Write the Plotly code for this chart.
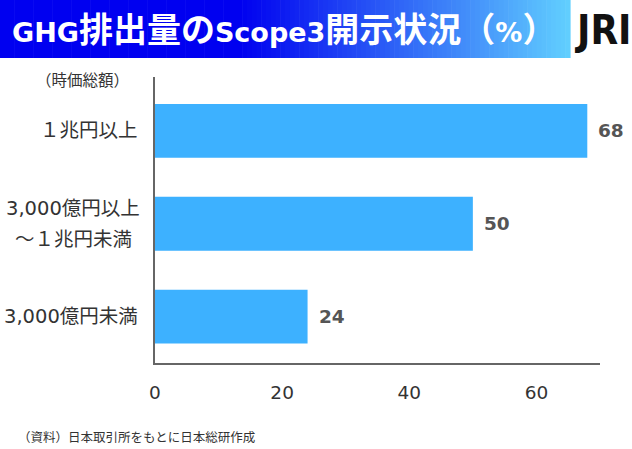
import plotly.graph_objects as go

categories = ["１兆円以上", "3,000億円以上<br>～１兆円未満", "3,000億円未満"]
values = [68, 50, 24]
x_ticks = [0, 20, 40, 60]

title_parts = [("GHG", "lat"), ("排出量の", "cjk"), ("Scope3", "lat"), ("開示状況（", "cjk"),
               ("%", "lat"), ("）", "cjk")]
unit_text = "（時価総額）"
source_text = "（資料）日本取引所をもとに日本総研作成"

FONT = "DejaVu Sans, Noto Sans CJK JP, sans-serif"
BAR = "#3db1ff"
TXT = "#333333"

fig = go.Figure()
fig.add_trace(go.Bar(
    x=values, y=categories, orientation="h",
    marker=dict(color=BAR, line=dict(width=0)),
    width=0.58, hoverinfo="skip",
))

for v, c in zip(values, categories):
    fig.add_annotation(x=v, y=c, xref="x", yref="y", text=f"<b>{v}</b>",
                       showarrow=False, xanchor="left", xshift=9,
                       font=dict(family=FONT, size=18.5, color="#555555"))

def px_x(p):
    return (p - 155) / 445

def px_y(p):
    return (363 - p) / 286

# category labels (centered lines, block right-aligned)
for c in categories:
    lines = c.split("<br>")
    if len(lines) == 1:
        fig.add_annotation(xref="paper", yref="y", x=px_x(140), y=c, text=c,
                           xanchor="right", yanchor="middle", showarrow=False,
                           font=dict(family=FONT, size=19.5, color=TXT))
    else:
        n = len(lines)
        for k, ln in enumerate(lines):
            fig.add_annotation(xref="paper", yref="y", x=px_x(73), y=c, text=ln,
                               xanchor="center", yanchor="middle", showarrow=False,
                               yshift=(n - 1) / 2 * 31 - k * 31,
                               font=dict(family=FONT, size=19.5, color=TXT))

# gradient banner
shapes = []
x0, x1 = 0, 570
nseg = 120
for i in range(nseg):
    a = x0 + (x1 - x0) * i / nseg
    b = x0 + (x1 - x0) * (i + 1) / nseg + 0.6
    t = (a + b) / 2 / x1
    if t < 0.42:
        r, g, bl = 0, 0, 240
    else:
        u = (t - 0.42) / 0.58
        r = int(98 * u)
        g = int(208 * u)
        bl = int(240 + 15 * u)
    shapes.append(dict(type="rect", xref="paper", yref="paper",
                       x0=px_x(a), x1=px_x(b), y0=px_y(58), y1=px_y(0),
                       fillcolor=f"rgb({r},{g},{bl})", line=dict(width=0), layer="above"))
fig.update_layout(shapes=shapes)

title_html = "".join(
    f"<span style='font-size:{27 if kind == 'lat' else 34}px'>{s}</span>"
    for s, kind in title_parts)
fig.add_annotation(xref="paper", yref="paper", x=px_x(10), y=px_y(30),
                   xanchor="left", yanchor="middle", showarrow=False,
                   text=f"<b>{title_html}</b>",
                   font=dict(family=FONT, size=27, color="white"))
fig.add_annotation(xref="paper", yref="paper", x=px_x(602), y=px_y(30),
                   xanchor="center", yanchor="middle", showarrow=False,
                   text="<b>JRI</b>",
                   font=dict(family="DejaVu Sans Condensed, sans-serif",
                             size=40, color="#111111"))
fig.add_annotation(xref="paper", yref="paper", x=px_x(131), y=px_y(81),
                   xanchor="right", yanchor="middle", showarrow=False,
                   text=unit_text,
                   font=dict(family=FONT, size=15.5, color=TXT))
fig.add_annotation(xref="paper", yref="paper", x=px_x(16), y=px_y(437),
                   xanchor="left", yanchor="middle", showarrow=False,
                   text=source_text,
                   font=dict(family=FONT, size=12.5, color=TXT))

fig.update_layout(
    width=632, height=449,
    margin=dict(l=155, r=32, t=77, b=86),
    paper_bgcolor="white", plot_bgcolor="white",
    showlegend=False,
    font=dict(family=FONT, size=15, color=TXT),
    xaxis=dict(range=[0, 70], tickvals=x_ticks, showgrid=False, zeroline=False,
               showline=True, linecolor="#666666", linewidth=1.5, ticks="",
               ticklabelstandoff=12, tickfont=dict(size=18.5, color=TXT),
               fixedrange=True),
    yaxis=dict(categoryorder="array", categoryarray=categories,
               range=[2.5, -0.58], showgrid=False, zeroline=False,
               showline=True, linecolor="#666666", linewidth=1.5, ticks="",
               showticklabels=False, fixedrange=True),
)

fig.write_html("out.html")
